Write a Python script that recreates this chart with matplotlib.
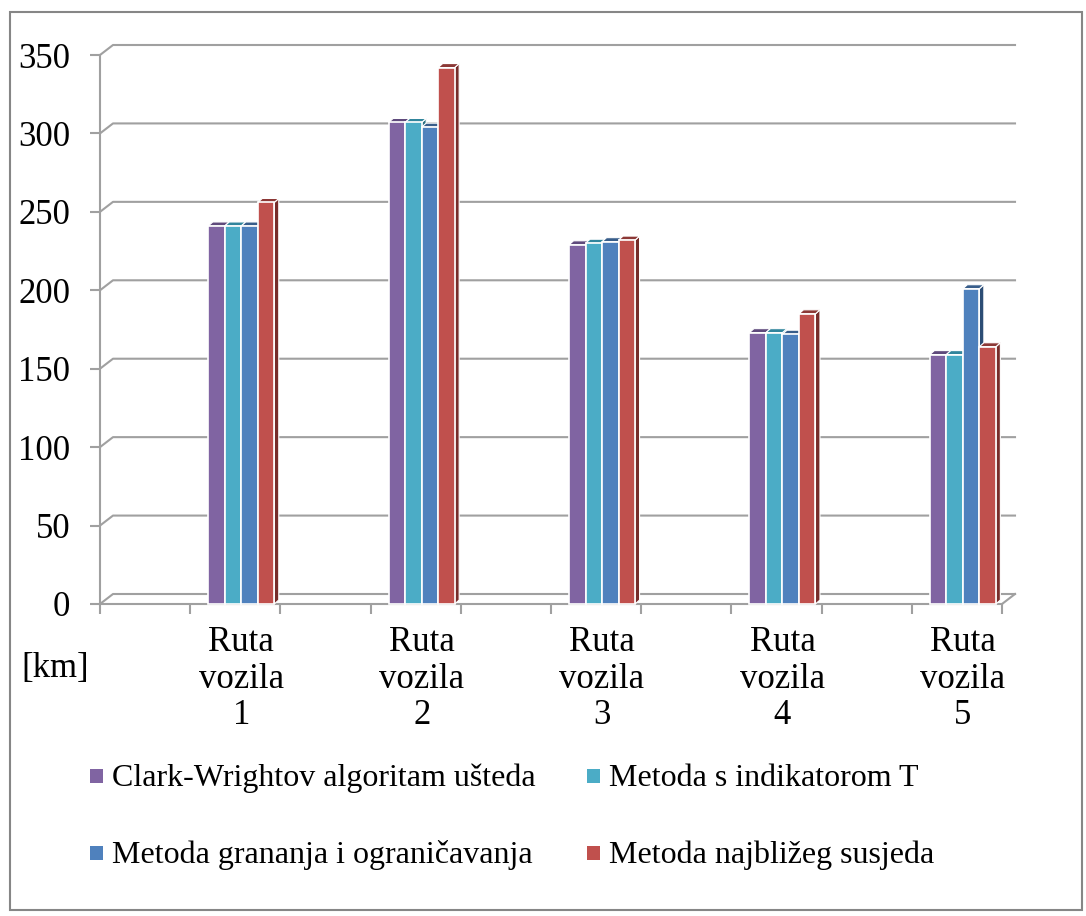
import matplotlib
matplotlib.use("Agg")
import matplotlib.pyplot as plt
from matplotlib.patches import Polygon, Rectangle

plt.rcParams['font.family'] = ['Liberation Serif', 'DejaVu Serif']

# data
routes = ["Ruta\nvozila\n1", "Ruta\nvozila\n2", "Ruta\nvozila\n3", "Ruta\nvozila\n4", "Ruta\nvozila\n5"]
series_names = ["Clark-Wrightov algoritam ušteda", "Metoda s indikatorom T",
                "Metoda grananja i ograničavanja", "Metoda najbližeg susjeda"]
clark_wright = [241, 307, 229, 173, 159]
indikator_t = [241, 307, 230, 173, 159]
grananje = [241, 304, 231, 172, 201]
najblizi = [256, 342, 232, 185, 164]
y_ticks = [0, 50, 100, 150, 200, 250, 300, 350]

series = [clark_wright, indikator_t, grananje, najblizi]
front_cols = ['#8064A2', '#4BACC6', '#4F81BD', '#C0504D']
top_cols = ['#5f4a7c', '#31859c', '#385d8a', '#8c3836']
side_cols = ['#4f3d66', '#2a6f82', '#2c4d75', '#772c2a']
grey = '#a0a0a0'

fig = plt.figure(figsize=(10.86, 9.16), dpi=100)
ax = fig.add_axes([100 / 1086, 1 - 604 / 916, 902 / 1086, 549 / 916])
ax.set_xlim(0, 5)
ax.set_ylim(0, 350)
for s in ['top', 'right']:
    ax.spines[s].set_visible(False)
ax.spines['left'].set_color(grey)
ax.spines['bottom'].set_color(grey)
ax.spines['left'].set_linewidth(1.5)
ax.spines['bottom'].set_linewidth(1.5)

# depth offsets of the 3D walls and of the bars (data units)
dxw, dyw = 13 / 180.4, 10 / 1.5686
dxb, dyb = 4.5 / 180.4, 4 / 1.5686

# back wall gridlines + floor
for v in y_ticks:
    ax.plot([0, dxw, 5 + dxw], [v, v + dyw, v + dyw], color=grey, lw=1.5, clip_on=False, zorder=1)
ax.plot([5 + dxw, 5], [dyw, 0], color=grey, lw=1.5, clip_on=False, zorder=1)

ax.set_yticks(y_ticks)
ax.set_yticklabels([str(v) for v in y_ticks], fontsize=25)
ax.set_xticks([i * 0.5 for i in range(11)])
ax.set_xticklabels([])
ax.tick_params(axis='both', color=grey, width=1.5, length=7.5, direction='out')
ax.tick_params(axis='y', pad=14)

bar_w = 0.0915
group_left = 0.60
z = 3
for i in range(len(routes)):
    for k, vals in enumerate(series):
        x0 = i + group_left + k * bar_w
        h = vals[i]
        side = Polygon([(x0 + bar_w, 0), (x0 + bar_w, h), (x0 + bar_w + dxb, h + dyb), (x0 + bar_w + dxb, dyb)],
                       closed=True, facecolor=side_cols[k], edgecolor='white', lw=0.8, zorder=z, clip_on=False)
        top = Polygon([(x0, h), (x0 + bar_w, h), (x0 + bar_w + dxb, h + dyb), (x0 + dxb, h + dyb)],
                      closed=True, facecolor=top_cols[k], edgecolor='white', lw=0.8, zorder=z, clip_on=False)
        ax.add_patch(side)
        ax.add_patch(top)
        ax.bar(x0, h, bar_w, align='edge', color=front_cols[k], edgecolor='white', lw=1.2,
               zorder=z + 0.5, clip_on=False)
        z += 1
    ax.text(i + group_left + 2 * bar_w, -14, routes[i], ha='center', va='top', fontsize=25,
            linespacing=1.15)

fig.text(55 / 1086, 1 - 668 / 916, "[km]", ha='center', va='center', fontsize=25)

# legend
leg_pos = [(90, 112, 786), (587, 609, 786), (90, 112, 863), (587, 609, 863)]
for k, name in enumerate(series_names):
    sx, tx, by = leg_pos[k]
    fig.patches.append(Rectangle((sx / 1086, 1 - (by - 3) / 916), 13 / 1086, 14 / 916,
                                 transform=fig.transFigure, facecolor=front_cols[k], edgecolor='none'))
    fig.text(tx / 1086, 1 - by / 916, name, ha='left', va='baseline', fontsize=23)

# outer chart border
fig.patches.append(Rectangle((10 / 1086, 1 - 910 / 916), 1072 / 1086, 898 / 916,
                             transform=fig.transFigure, fill=False, edgecolor='#868686', lw=1.5))

fig.savefig("out.png", dpi=100)
